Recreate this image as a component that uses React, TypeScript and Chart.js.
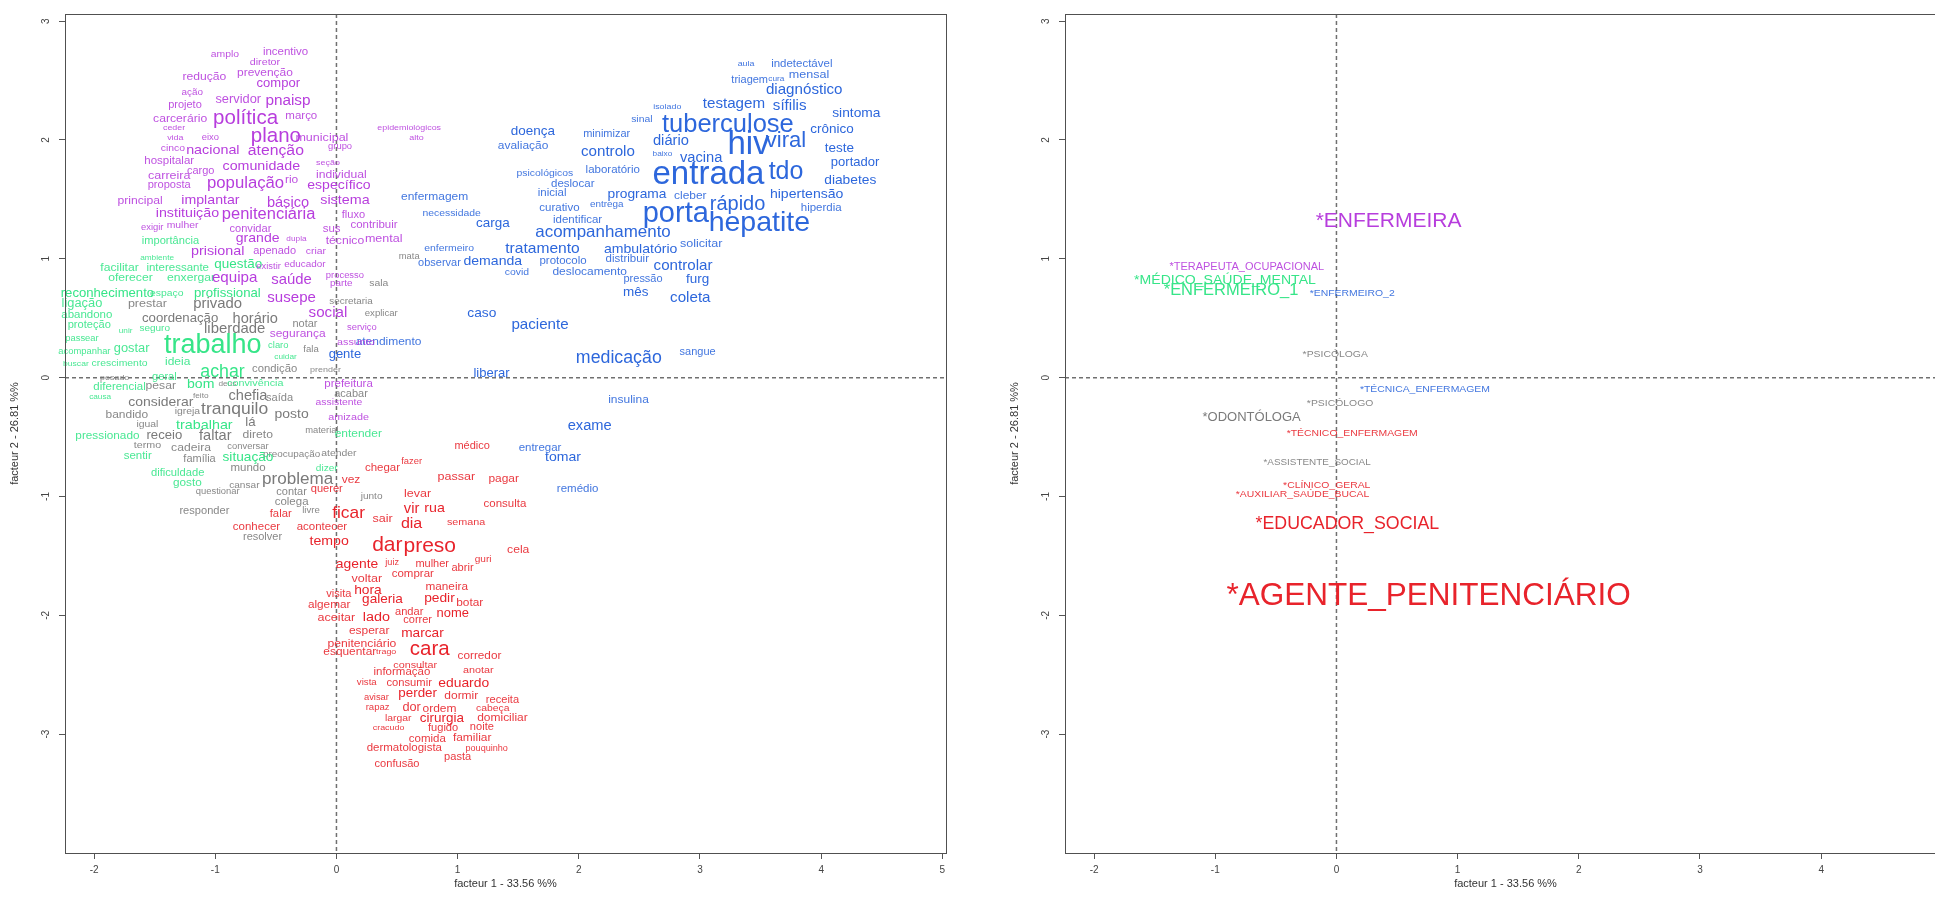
import React, { useEffect, useRef } from "react";
import { Chart, registerables } from "chart.js";

Chart.register(...registerables);

// [word, factor 1, factor 2, cex]
type Item = [string, number, number, number];

const xTickValues = [-2, -1, 0, 1, 2, 3, 4, 5];
const yTickValues = [-3, -2, -1, 0, 1, 2, 3];
const xRange = [-2.24, 5.03];
const yRange = [-4.0, 3.06];
const xAxisLabel = "facteur 1 - 33.56 %%";
const yAxisLabel = "facteur 2 - 26.81 %%";

const classColors = ["#e8232b", "#7a7a7a", "#36e588", "#2d67dc", "#b73ddd"];

const class1Words: Item[] = [
  ["chegar", 0.38, -0.76, 1.0], ["fazer", 0.62, -0.71, 0.8], ["vez", 0.12, -0.86, 1.05],
  ["querer", -0.08, -0.94, 0.96], ["médico", 1.12, -0.58, 0.95], ["passar", 0.99, -0.83, 1.1],
  ["pagar", 1.38, -0.85, 1.05], ["levar", 0.67, -0.98, 1.1], ["consulta", 1.39, -1.06, 1.0],
  ["vir", 0.62, -1.11, 1.4], ["rua", 0.81, -1.1, 1.27], ["falar", -0.46, -1.15, 0.98],
  ["ficar", 0.1, -1.14, 1.7], ["sair", 0.38, -1.19, 1.1], ["dia", 0.62, -1.23, 1.55],
  ["semana", 1.07, -1.22, 0.93], ["conhecer", -0.66, -1.26, 1.0], ["acontecer", -0.12, -1.26, 1.0],
  ["tempo", -0.06, -1.38, 1.26], ["dar", 0.42, -1.41, 2.1], ["preso", 0.77, -1.42, 2.1],
  ["cela", 1.5, -1.45, 1.07], ["agente", 0.17, -1.57, 1.24], ["juiz", 0.46, -1.56, 0.78],
  ["mulher", 0.79, -1.57, 0.95], ["abrir", 1.04, -1.6, 0.96], ["guri", 1.21, -1.53, 0.87],
  ["voltar", 0.25, -1.69, 1.1], ["comprar", 0.63, -1.65, 1.0], ["maneira", 0.91, -1.76, 1.03],
  ["visita", 0.02, -1.82, 0.96], ["hora", 0.26, -1.79, 1.3], ["algemar", -0.06, -1.91, 1.03],
  ["galeria", 0.38, -1.87, 1.21], ["pedir", 0.85, -1.86, 1.23], ["botar", 1.1, -1.9, 1.04],
  ["andar", 0.6, -1.97, 0.96], ["nome", 0.96, -1.99, 1.14], ["aceitar", 0.0, -2.02, 1.1],
  ["lado", 0.33, -2.02, 1.29], ["correr", 0.67, -2.04, 0.95], ["esperar", 0.27, -2.13, 1.05],
  ["marcar", 0.71, -2.15, 1.22], ["penitenciário", 0.21, -2.24, 1.07], ["cara", 0.77, -2.29, 2.05],
  ["esquentar", 0.11, -2.31, 1.04], ["trago", 0.41, -2.31, 0.75], ["corredor", 1.18, -2.34, 1.03],
  ["consultar", 0.65, -2.42, 0.93], ["informação", 0.54, -2.48, 1.0], ["anotar", 1.17, -2.46, 0.93],
  ["vista", 0.25, -2.57, 0.83], ["consumir", 0.6, -2.57, 0.97], ["eduardo", 1.05, -2.57, 1.24],
  ["avisar", 0.33, -2.69, 0.8], ["perder", 0.67, -2.66, 1.19], ["dormir", 1.03, -2.68, 1.05],
  ["receita", 1.37, -2.71, 0.96], ["rapaz", 0.34, -2.78, 0.82], ["dor", 0.62, -2.78, 1.12],
  ["ordem", 0.85, -2.79, 1.05], ["cabeça", 1.29, -2.78, 0.9], ["largar", 0.51, -2.87, 0.9],
  ["cirurgia", 0.87, -2.87, 1.2], ["domiciliar", 1.37, -2.86, 1.05], ["cracudo", 0.43, -2.95, 0.75],
  ["fugido", 0.88, -2.95, 0.96], ["noite", 1.2, -2.94, 0.96], ["comida", 0.75, -3.04, 1.0],
  ["familiar", 1.12, -3.03, 1.05], ["dermatologista", 0.56, -3.12, 1.0], ["pouquinho", 1.24, -3.12, 0.77],
  ["pasta", 1.0, -3.19, 0.96], ["confusão", 0.5, -3.25, 0.96],
];

const class2Words: Item[] = [
  ["mata", 0.6, 1.02, 0.8], ["sala", 0.35, 0.79, 0.9], ["secretaria", 0.12, 0.64, 0.85],
  ["prestar", -1.56, 0.62, 1.1], ["privado", -0.98, 0.62, 1.42], ["explicar", 0.37, 0.54, 0.82],
  ["coordenação", -1.29, 0.5, 1.17], ["horário", -0.67, 0.49, 1.39], ["notar", -0.26, 0.45, 0.95],
  ["liberdade", -0.84, 0.41, 1.42], ["fala", -0.21, 0.24, 0.82], ["pesado", -1.83, 0.0, 0.75],
  ["condição", -0.51, 0.07, 0.98], ["prender", -0.09, 0.07, 0.76], ["pesar", -1.45, -0.07, 1.07],
  ["deus", -0.9, -0.05, 0.7], ["feito", -1.12, -0.15, 0.7], ["considerar", -1.45, -0.21, 1.32],
  ["chefia", -0.73, -0.16, 1.39], ["saída", -0.47, -0.17, 0.96], ["acabar", 0.12, -0.14, 0.95],
  ["tranquilo", -0.84, -0.27, 1.72], ["bandido", -1.73, -0.31, 1.05], ["igreja", -1.23, -0.28, 0.9],
  ["posto", -0.37, -0.31, 1.32], ["igual", -1.56, -0.39, 0.9], ["lá", -0.71, -0.38, 1.17],
  ["receio", -1.42, -0.49, 1.16], ["faltar", -1.0, -0.49, 1.39], ["direto", -0.65, -0.48, 1.07],
  ["material", -0.12, -0.45, 0.8], ["termo", -1.56, -0.57, 0.92], ["cadeira", -1.2, -0.59, 1.07],
  ["conversar", -0.73, -0.58, 0.8], ["preocupação", -0.37, -0.65, 0.85], ["atender", 0.02, -0.64, 0.9],
  ["família", -1.13, -0.69, 0.95], ["mundo", -0.73, -0.76, 1.0], ["problema", -0.32, -0.86, 1.67],
  ["cansar", -0.76, -0.91, 0.87], ["questionar", -0.98, -0.96, 0.8], ["contar", -0.37, -0.96, 0.95],
  ["junto", 0.29, -1.0, 0.87], ["colega", -0.37, -1.05, 1.0], ["responder", -1.09, -1.12, 0.96],
  ["livre", -0.21, -1.12, 0.82], ["resolver", -0.61, -1.34, 0.95],
];

const class3Words: Item[] = [
  ["importância", -1.37, 1.15, 0.96], ["ambiente", -1.48, 1.01, 0.7], ["facilitar", -1.79, 0.92, 1.07],
  ["interessante", -1.31, 0.92, 1.0], ["questão", -0.81, 0.95, 1.2], ["oferecer", -1.7, 0.84, 1.07],
  ["enxergar", -1.2, 0.84, 1.07], ["reconhecimento", -1.89, 0.71, 1.16], ["espaço", -1.4, 0.71, 0.9],
  ["profissional", -0.9, 0.71, 1.17], ["ligação", -2.1, 0.62, 1.13], ["abandono", -2.06, 0.53, 1.0],
  ["proteção", -2.04, 0.44, 0.96], ["unir", -1.74, 0.39, 0.7], ["seguro", -1.5, 0.41, 0.86],
  ["passear", -2.1, 0.33, 0.8], ["trabalho", -1.02, 0.27, 2.7], ["acompanhar", -2.08, 0.22, 0.8],
  ["gostar", -1.69, 0.24, 1.13], ["claro", -0.48, 0.27, 0.8], ["cuidar", -0.42, 0.17, 0.7],
  ["buscar", -2.15, 0.12, 0.73], ["crescimento", -1.79, 0.12, 0.9], ["ideia", -1.31, 0.13, 1.05],
  ["geral", -1.42, 0.0, 0.96], ["achar", -0.94, 0.05, 1.75], ["diferencial", -1.79, -0.08, 1.0],
  ["bom", -1.12, -0.06, 1.25], ["convivência", -0.67, -0.05, 0.93], ["causa", -1.95, -0.16, 0.7],
  ["trabalhar", -1.09, -0.4, 1.36], ["pressionado", -1.89, -0.49, 1.03], ["entender", 0.18, -0.47, 1.05],
  ["sentir", -1.64, -0.66, 1.0], ["situação", -0.73, -0.67, 1.22], ["dificuldade", -1.31, -0.8, 0.97],
  ["dizer", -0.08, -0.76, 0.87], ["gosto", -1.23, -0.89, 1.03],
];

const class4Words: Item[] = [
  ["aula", 3.38, 2.64, 0.75], ["indetectável", 3.84, 2.64, 1.0], ["triagem", 3.41, 2.5, 0.95],
  ["cura", 3.63, 2.51, 0.7], ["mensal", 3.9, 2.55, 1.1], ["diagnóstico", 3.86, 2.42, 1.45],
  ["isolado", 2.73, 2.28, 0.75], ["testagem", 3.28, 2.3, 1.45], ["sífilis", 3.74, 2.29, 1.45],
  ["sinal", 2.52, 2.17, 0.9], ["tuberculose", 3.23, 2.13, 2.55], ["sintoma", 4.29, 2.22, 1.3],
  ["crônico", 4.09, 2.09, 1.2], ["doença", 1.62, 2.07, 1.2], ["minimizar", 2.23, 2.05, 0.95],
  ["diário", 2.76, 1.99, 1.4], ["hiv", 3.4, 1.96, 3.3], ["viral", 3.71, 1.99, 2.2],
  ["teste", 4.15, 1.93, 1.2], ["avaliação", 1.54, 1.95, 1.05], ["controlo", 2.24, 1.9, 1.45],
  ["baixo", 2.69, 1.88, 0.7], ["vacina", 3.01, 1.85, 1.4], ["portador", 4.28, 1.81, 1.15],
  ["psicológicos", 1.72, 1.72, 0.9], ["laboratório", 2.28, 1.75, 1.0], ["entrada", 3.07, 1.71, 3.3],
  ["tdo", 3.71, 1.73, 2.5], ["diabetes", 4.24, 1.66, 1.3], ["deslocar", 1.95, 1.63, 1.0],
  ["inicial", 1.78, 1.55, 1.0], ["programa", 2.48, 1.54, 1.3], ["cleber", 2.92, 1.53, 1.05],
  ["hipertensão", 3.88, 1.54, 1.25], ["enfermagem", 0.81, 1.52, 1.05], ["curativo", 1.84, 1.43, 1.0],
  ["entrega", 2.23, 1.46, 0.85], ["rápido", 3.31, 1.46, 2.0], ["hiperdia", 4.0, 1.43, 1.0],
  ["porta", 2.8, 1.38, 2.9], ["necessidade", 0.95, 1.38, 0.9], ["identificar", 1.99, 1.33, 1.0],
  ["carga", 1.29, 1.3, 1.2], ["hepatite", 3.49, 1.3, 2.85], ["acompanhamento", 2.2, 1.22, 1.65],
  ["solicitar", 3.01, 1.13, 1.1], ["enfermeiro", 0.93, 1.09, 0.9], ["tratamento", 1.7, 1.08, 1.5],
  ["ambulatório", 2.51, 1.08, 1.25], ["observar", 0.85, 0.96, 0.95], ["demanda", 1.29, 0.98, 1.25],
  ["protocolo", 1.87, 0.98, 1.0], ["distribuir", 2.4, 1.0, 1.0], ["controlar", 2.86, 0.94, 1.45],
  ["covid", 1.49, 0.89, 0.9], ["deslocamento", 2.09, 0.89, 1.05], ["pressão", 2.53, 0.83, 0.95],
  ["furg", 2.98, 0.83, 1.2], ["mês", 2.47, 0.72, 1.2], ["coleta", 2.92, 0.67, 1.45],
  ["caso", 1.2, 0.54, 1.3], ["paciente", 1.68, 0.44, 1.45], ["atendimento", 0.43, 0.3, 1.05],
  ["gente", 0.07, 0.19, 1.15], ["medicação", 2.33, 0.16, 1.75], ["sangue", 2.98, 0.21, 0.95],
  ["liberar", 1.28, 0.03, 1.15], ["insulina", 2.41, -0.19, 1.05], ["exame", 2.09, -0.41, 1.4],
  ["entregar", 1.68, -0.59, 1.0], ["tomar", 1.87, -0.67, 1.25], ["remédio", 1.99, -0.94, 1.0],
];

const class5Words: Item[] = [
  ["amplo", -0.92, 2.72, 0.9], ["incentivo", -0.42, 2.74, 1.0], ["diretor", -0.59, 2.65, 0.92],
  ["redução", -1.09, 2.53, 1.07], ["prevenção", -0.59, 2.56, 1.05], ["compor", -0.48, 2.47, 1.15],
  ["ação", -1.19, 2.4, 0.85], ["servidor", -0.81, 2.34, 1.13], ["pnaisp", -0.4, 2.33, 1.47],
  ["projeto", -1.25, 2.29, 0.95], ["carcerário", -1.29, 2.18, 1.07], ["política", -0.75, 2.18, 2.05],
  ["março", -0.29, 2.2, 1.0], ["ceder", -1.34, 2.1, 0.75], ["vida", -1.33, 2.02, 0.75],
  ["eixo", -1.04, 2.02, 0.8], ["plano", -0.5, 2.03, 2.05], ["municipal", -0.12, 2.02, 1.1],
  ["grupo", 0.03, 1.94, 0.8], ["cinco", -1.35, 1.93, 0.9], ["nacional", -1.02, 1.91, 1.28],
  ["atenção", -0.5, 1.91, 1.52], ["hospitalar", -1.38, 1.82, 1.0], ["comunidade", -0.62, 1.78, 1.35],
  ["seção", -0.07, 1.81, 0.75], ["carreira", -1.38, 1.7, 1.1], ["cargo", -1.12, 1.74, 0.95],
  ["individual", 0.04, 1.71, 1.07], ["proposta", -1.38, 1.62, 0.96], ["população", -0.75, 1.63, 1.63],
  ["rio", -0.37, 1.66, 1.05], ["específico", 0.02, 1.62, 1.25], ["principal", -1.62, 1.49, 1.07],
  ["implantar", -1.04, 1.49, 1.26], ["básico", -0.4, 1.47, 1.39], ["sistema", 0.07, 1.49, 1.28],
  ["instituição", -1.23, 1.38, 1.27], ["penitenciária", -0.56, 1.37, 1.6], ["fluxo", 0.14, 1.37, 0.96],
  ["exigir", -1.52, 1.26, 0.8], ["mulher", -1.27, 1.28, 0.9], ["convidar", -0.71, 1.25, 0.96],
  ["grande", -0.65, 1.17, 1.33], ["dupla", -0.33, 1.17, 0.7], ["sus", -0.04, 1.25, 1.0],
  ["contribuir", 0.31, 1.28, 1.0], ["técnico", 0.07, 1.15, 1.07], ["mental", 0.39, 1.17, 1.1],
  ["prisional", -0.98, 1.06, 1.28], ["apenado", -0.51, 1.06, 0.95], ["criar", -0.17, 1.06, 0.9],
  ["existir", -0.56, 0.93, 0.8], ["educador", -0.26, 0.95, 0.85], ["equipa", -0.84, 0.84, 1.45],
  ["saúde", -0.37, 0.82, 1.42], ["processo", 0.07, 0.86, 0.8], ["parte", 0.04, 0.79, 0.85],
  ["susepe", -0.37, 0.67, 1.44], ["social", -0.07, 0.54, 1.45], ["serviço", 0.21, 0.42, 0.8],
  ["segurança", -0.32, 0.37, 1.05], ["assunto", 0.16, 0.3, 0.92], ["prefeitura", 0.1, -0.05, 1.0],
  ["assistente", 0.02, -0.21, 0.9], ["amizade", 0.1, -0.33, 0.93], ["epidemiológicos", 0.6, 2.1, 0.75],
  ["alto", 0.66, 2.02, 0.75],
];

const class1Vars: Item[] = [
  ["*AGENTE_PENITENCIÁRIO", 0.76, -1.84, 3.15], ["*EDUCADOR_SOCIAL", 0.09, -1.23, 1.75],
  ["*TÉCNICO_ENFERMAGEM", 0.13, -0.47, 0.9], ["*CLÍNICO_GERAL", -0.08, -0.91, 0.9],
  ["*AUXILIAR_SAÚDE_BUCAL", -0.28, -0.98, 0.9],
];
const class2Vars: Item[] = [
  ["*PSICÓLOGA", -0.01, 0.2, 0.9], ["*PSICÓLOGO", 0.03, -0.22, 0.9],
  ["*ODONTÓLOGA", -0.7, -0.34, 1.15], ["*ASSISTENTE_SOCIAL", -0.16, -0.71, 0.85],
];
const class3Vars: Item[] = [
  ["*MÉDICO_SAÚDE_MENTAL", -0.92, 0.82, 1.25], ["*ENFERMEIRO_1", -0.87, 0.73, 1.6],
];
const class4Vars: Item[] = [
  ["*ENFERMEIRO_2", 0.13, 0.71, 0.9], ["*TÉCNICA_ENFERMAGEM", 0.73, -0.1, 0.9],
];
const class5Vars: Item[] = [
  ["*ENFERMEIRA", 0.43, 1.32, 2.1], ["*TERAPEUTA_OCUPACIONAL", -0.74, 0.93, 0.95],
];

const wordGroups = [class1Words, class2Words, class3Words, class4Words, class5Words];
const varGroups = [class1Vars, class2Vars, class3Vars, class4Vars, class5Vars];

const FONT = '"Liberation Sans", Arial, sans-serif';

const labelPlugin = {
  id: "afcLabels",
  beforeDatasetsDraw(chart: any) {
    const { ctx, chartArea, scales } = chart;
    const x0 = scales.x.getPixelForValue(0);
    const y0 = scales.y.getPixelForValue(0);
    ctx.save();
    ctx.strokeStyle = "#707070";
    ctx.lineWidth = 1.5;
    ctx.setLineDash([4, 3]);
    ctx.beginPath();
    ctx.moveTo(x0, chartArea.top);
    ctx.lineTo(x0, chartArea.bottom);
    ctx.moveTo(chartArea.left, y0);
    ctx.lineTo(chartArea.right, y0);
    ctx.stroke();
    ctx.restore();
  },
  afterDatasetsDraw(chart: any) {
    const { ctx } = chart;
    chart.data.datasets.forEach((ds: any, i: number) => {
      const meta = chart.getDatasetMeta(i);
      meta.data.forEach((el: any, j: number) => {
        const cex = ds.cex[j];
        const px = cex * 10 * (cex < 1.3 ? 1.06 : 1);
        const sx = px >= 19 ? 1 : 1 + (19 - px) * 0.01;
        ctx.save();
        ctx.globalAlpha = px < 12 ? 0.9 : 1;
        ctx.fillStyle = ds.textColor;
        ctx.font = `${px.toFixed(1)}px ${FONT}`;
        ctx.textAlign = "center";
        ctx.textBaseline = "middle";
        ctx.translate(el.x, el.y);
        ctx.scale(sx, 1);
        ctx.fillText(ds.words[j], 0, 0);
        ctx.restore();
      });
    });
  },
  afterDraw(chart: any) {
    const { ctx, chartArea } = chart;
    ctx.save();
    ctx.strokeStyle = "#505050";
    ctx.lineWidth = 1;
    ctx.strokeRect(chartArea.left + 0.5, chartArea.top + 0.5, chartArea.right - chartArea.left, chartArea.bottom - chartArea.top);
    ctx.restore();
  },
};

function buildConfig(groups: Item[][]): any {
  const tickFont = { family: FONT, size: 10 };
  const titleFont = { family: FONT, size: 11 };
  return {
    type: "scatter",
    data: {
      datasets: groups.map((g, i) => ({
        label: `classe ${i + 1}`,
        data: g.map((w) => ({ x: w[1], y: w[2] })),
        words: g.map((w) => w[0]),
        cex: g.map((w) => w[3]),
        textColor: classColors[i],
        pointRadius: 0,
        pointHoverRadius: 0,
        pointBorderWidth: 0,
        showLine: false,
      })),
    },
    options: {
      responsive: false,
      maintainAspectRatio: false,
      animation: false,
      events: [],
      layout: { padding: { left: 0, top: 14, right: 54, bottom: 0 } },
      plugins: { legend: { display: false }, tooltip: { enabled: false } },
      scales: {
        x: {
          type: "linear",
          min: xRange[0],
          max: xRange[1],
          bounds: "data",
          afterBuildTicks: (s: any) => {
            s.ticks = xTickValues.map((v) => ({ value: v }));
          },
          afterFit: (s: any) => {
            s.height = 53;
          },
          grid: { display: true, drawOnChartArea: false, drawTicks: true, tickLength: 6, color: "#555" },
          border: { display: true, color: "#505050" },
          ticks: { font: tickFont, color: "#444", padding: 5, maxRotation: 0, autoSkip: false },
          title: { display: true, text: xAxisLabel, font: titleFont, color: "#333", padding: { top: 0, bottom: 15 } },
        },
        y: {
          type: "linear",
          min: yRange[0],
          max: yRange[1],
          bounds: "data",
          afterBuildTicks: (s: any) => {
            s.ticks = yTickValues.map((v) => ({ value: v }));
          },
          afterFit: (s: any) => {
            s.width = 65;
          },
          grid: { display: true, drawOnChartArea: false, drawTicks: true, tickLength: 6, color: "#555" },
          border: { display: true, color: "#505050" },
          ticks: {
            font: tickFont,
            color: "#444",
            padding: 8,
            minRotation: 90,
            maxRotation: 90,
            crossAlign: "center",
            autoSkip: false,
          },
          title: { display: true, text: yAxisLabel, font: titleFont, color: "#333", padding: { top: 8, bottom: 0 } },
        },
      },
    },
    plugins: [labelPlugin],
  };
}

function AfcPanel({ groups, left }: { groups: Item[][]; left: number }) {
  const ref = useRef<HTMLCanvasElement | null>(null);
  useEffect(() => {
    if (!ref.current) return;
    const chart = new Chart(ref.current, buildConfig(groups));
    return () => chart.destroy();
  }, [groups]);
  return (
    <canvas
      ref={ref}
      width={1000}
      height={906}
      style={{ position: "absolute", left, top: 0, width: 1000, height: 906 }}
    />
  );
}

export default function App() {
  return (
    <div
      style={{
        position: "fixed",
        left: 0,
        top: 0,
        width: 1935,
        height: 906,
        overflow: "hidden",
        background: "#ffffff",
      }}
    >
      <AfcPanel groups={wordGroups} left={0} />
      <AfcPanel groups={varGroups} left={1000} />
    </div>
  );
}
